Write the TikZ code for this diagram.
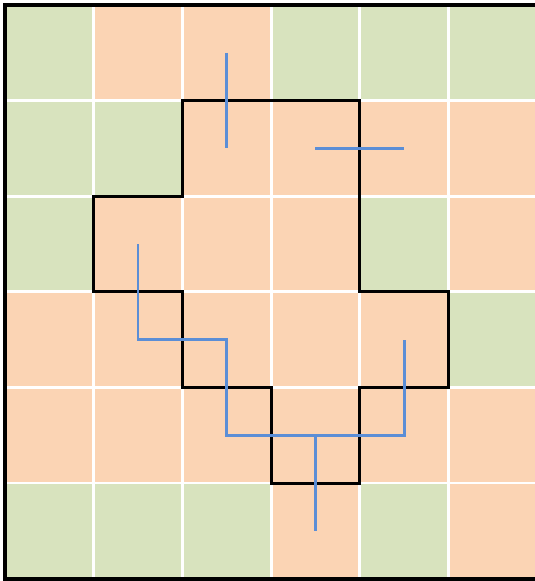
\documentclass[tikz,border=0pt]{standalone}
\usepackage{xcolor}
\usepackage{tikz}
\usetikzlibrary{positioning,calc}
\definecolor{cellg}{RGB}{216,227,190}
\definecolor{cello}{RGB}{251,212,180}
\definecolor{treeblue}{RGB}{91,142,214}

\begin{document}
\begin{tikzpicture}[
  x=1.774cm, y=-1.912cm,
  gridline/.style={white, line width=1.6pt},
  frame/.style={black, line width=2.2pt},
  region/.style={black, line width=1.7pt, line join=miter},
  tree/.style={treeblue, line width=1.6pt}
]
\useasboundingbox (-0.0564,-0.0523) rectangle (5.964,6.025);

% cells, row by row
\foreach \r/\row in {0/{g,o,o,g,g,g}, 1/{g,g,o,o,o,o}, 2/{g,o,o,o,g,o},
                     3/{o,o,o,o,o,g}, 4/{o,o,o,o,o,o}, 5/{g,g,g,o,g,o}}
  \foreach \k [count=\c from 0] in \row
    \fill[cell\k] (\c,\r) rectangle ++(1,1);
\foreach \i in {1,...,5} {
  \draw[gridline] (\i,0) -- (\i,6);
  \draw[gridline] (0,\i) -- (6,\i);
}
\draw[frame] (6,0) -- (0,0) -- (0,6) -- (6,6);

% cell centres
\foreach \r in {0,...,5}
  \foreach \c in {0,...,5}
    \coordinate (c\r\c) at (\c+0.5,\r+0.5);

% the region
\draw[region] (2,1) -- (4,1) -- (4,3) -- (5,3) -- (5,4) -- (4,4) -- (4,5)
  -- (3,5) -- (3,4) -- (2,4) -- (2,3) -- (1,3) -- (1,2) -- (2,2) -- cycle;

% tree
\draw[tree] (c02) -- (c12);
\draw[tree] (c13) -- (c14);
\draw[tree] (c21) -- (c31) -- (c32) -- (c42) -- (c44) -- (c34);
\draw[tree] (c43) -- (c53);
\end{tikzpicture}
\end{document}
